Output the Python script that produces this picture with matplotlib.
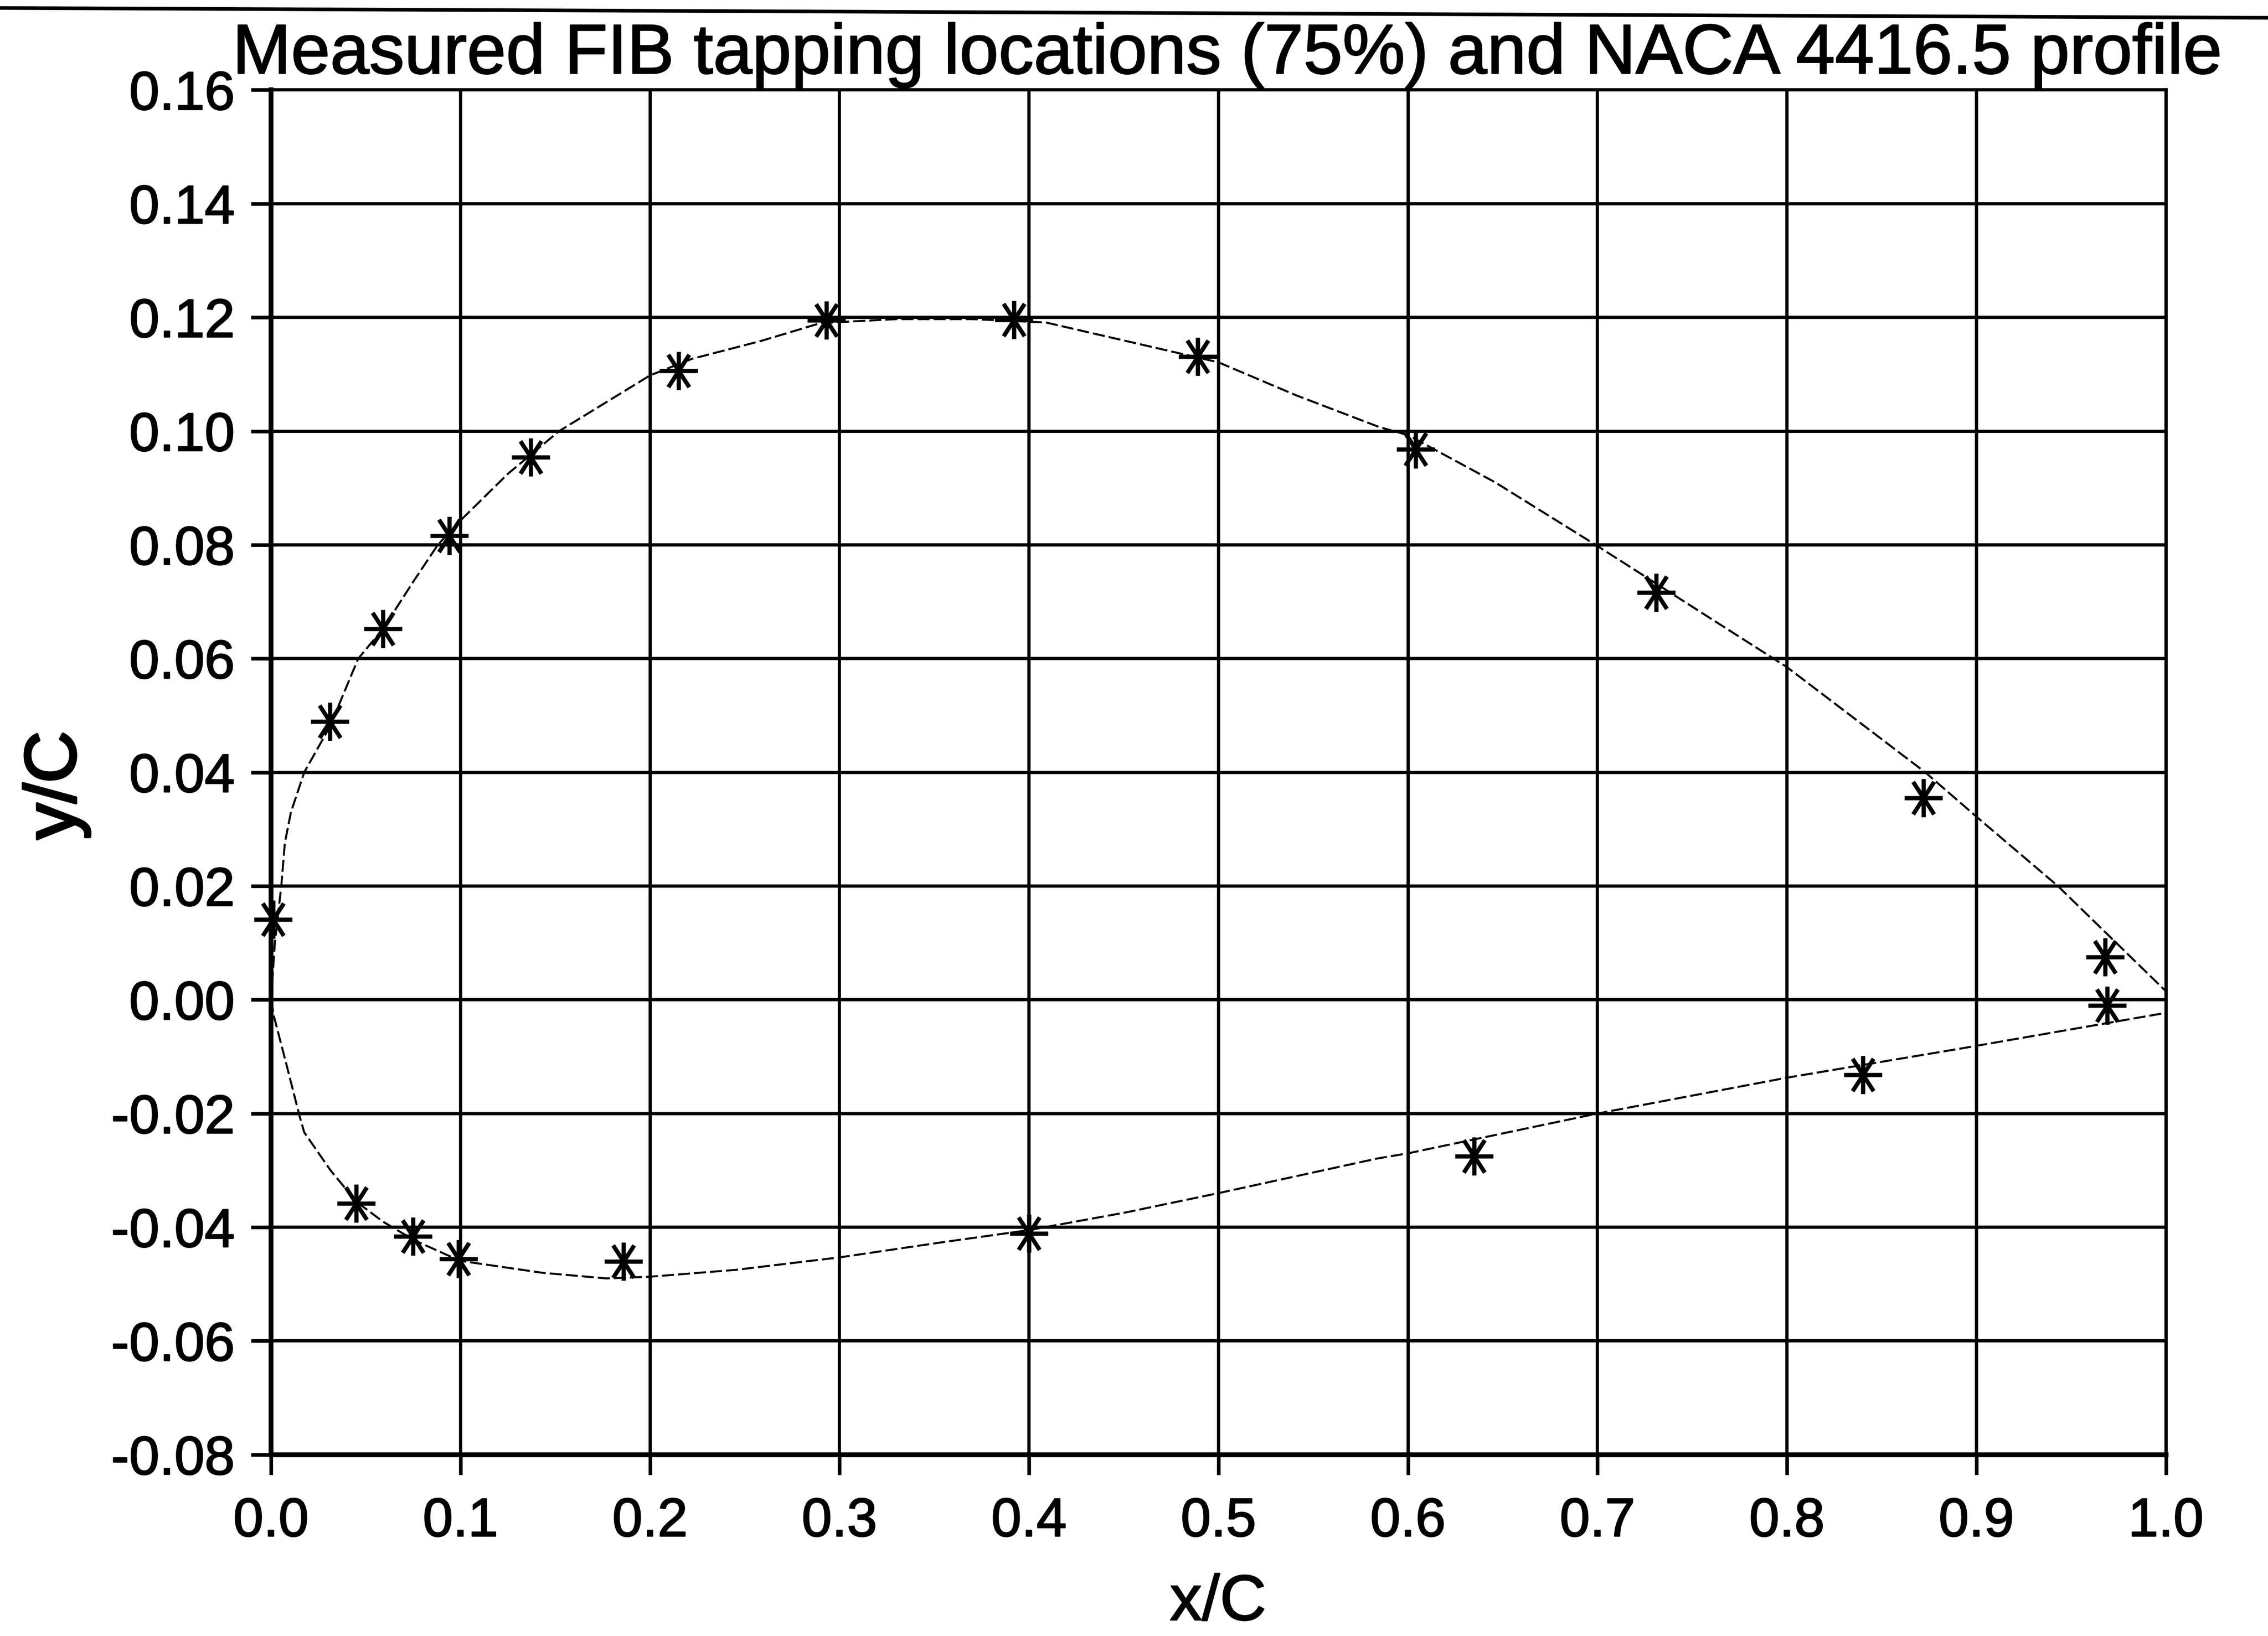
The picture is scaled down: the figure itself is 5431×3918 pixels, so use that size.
import matplotlib
matplotlib.use('Agg')
import matplotlib.pyplot as plt
import matplotlib.patheffects as pe
from matplotlib.path import Path
from matplotlib.lines import Line2D
from matplotlib.ticker import FormatStrFormatter

plt.rcParams['font.family'] = ['Liberation Sans', 'DejaVu Sans']
plt.rcParams['axes.unicode_minus'] = False

# measured FIB tapping locations (75% span)
tap_x = [0.001, 0.031, 0.059, 0.094, 0.137, 0.215, 0.293, 0.392, 0.489, 0.604,
         0.731, 0.872, 0.968, 0.969, 0.840, 0.635, 0.400, 0.186, 0.099, 0.075, 0.045]
tap_y = [0.0141, 0.0489, 0.0652, 0.0816, 0.0954, 0.1106, 0.1195, 0.1196, 0.1131, 0.0968,
         0.0716, 0.0355, 0.0075, -0.0010, -0.0132, -0.0275, -0.0411, -0.0460, -0.0456, -0.0416, -0.0358]

# NACA 4416.5 profile, upper surface
upper_x = [0.0, 0.002, 0.0054, 0.0073, 0.0105, 0.0175, 0.031, 0.046, 0.059, 0.075,
           0.088, 0.1, 0.125, 0.152, 0.2, 0.222, 0.259, 0.29, 0.33, 0.37,
           0.409, 0.461, 0.5, 0.541, 0.585, 0.6, 0.646, 0.7, 0.76, 0.8,
           0.873, 0.9, 0.943, 1.0]
upper_y = [0.0, 0.010, 0.020, 0.0276, 0.033, 0.040, 0.048, 0.060, 0.0652, 0.0735,
           0.080, 0.0843, 0.0925, 0.100, 0.1098, 0.1127, 0.1159, 0.119, 0.1197, 0.1197,
           0.1191, 0.1151, 0.1121, 0.1063, 0.1007, 0.0993, 0.091, 0.0798, 0.067, 0.0585,
           0.040, 0.0322, 0.020, 0.0015]

# lower surface
lower_x = [0.0, 0.0016, 0.0086, 0.015, 0.0175, 0.0314, 0.045, 0.059, 0.0757, 0.0997,
           0.143, 0.177, 0.2, 0.245, 0.3, 0.353, 0.4, 0.451, 0.5, 0.584,
           0.6, 0.7, 0.8, 0.893, 1.0]
lower_y = [0.0, -0.003, -0.012, -0.0204, -0.0233, -0.030, -0.0355, -0.039, -0.0423, -0.0459,
           -0.048, -0.049, -0.0487, -0.0475, -0.0453, -0.0427, -0.0405, -0.0374, -0.034, -0.0279,
           -0.027, -0.020, -0.0137, -0.0085, -0.0023]

x_ticks = [0.0, 0.1, 0.2, 0.3, 0.4, 0.5, 0.6, 0.7, 0.8, 0.9, 1.0]
y_ticks = [-0.08, -0.06, -0.04, -0.02, 0.0, 0.02, 0.04, 0.06, 0.08, 0.10, 0.12, 0.14, 0.16]

# excel style star: asterisk with a horizontal bar
star = Path([(-1, 0), (1, 0), (0, -1), (0, 1),
             (-0.55, -0.85), (0.55, 0.85), (-0.55, 0.85), (0.55, -0.85)],
            [Path.MOVETO, Path.LINETO] * 4)

# scanned print looks a bit heavier than plain text
heavy = [pe.withStroke(linewidth=0.6, foreground='black')]

dpi = 346.4
fig = plt.figure(figsize=(5431.5 / dpi, 3918.5 / dpi), dpi=dpi)
ax = fig.add_axes([0.1195, 0.1108, 0.8354, 0.8341])

ax.plot(upper_x, upper_y, color='black', lw=1.0, dashes=(6, 2.0), zorder=3)
ax.plot(lower_x, lower_y, color='black', lw=1.0, dashes=(6, 2.0), zorder=3)
ax.plot(tap_x, tap_y, ls='none', marker=star, markersize=19, mew=2.1,
        mec='black', mfc='none', zorder=4, clip_on=False)

ax.set_xlim(0.0, 1.0)
ax.set_ylim(-0.08, 0.16)
ax.set_xticks(x_ticks)
ax.set_yticks(y_ticks)
ax.xaxis.set_major_formatter(FormatStrFormatter('%.1f'))
ax.yaxis.set_major_formatter(FormatStrFormatter('%.2f'))
ax.tick_params(axis='both', direction='out', length=10, width=1.8, labelsize=27, colors='black')
ax.tick_params(axis='x', pad=11)
ax.tick_params(axis='y', pad=8)
for lab in ax.get_xticklabels() + ax.get_yticklabels():
    lab.set_path_effects(heavy)

ax.grid(True, color='black', lw=1.6)
ax.set_axisbelow(True)
for side in ['left', 'bottom']:
    ax.spines[side].set_linewidth(2.4)
for side in ['top', 'right']:
    ax.spines[side].set_linewidth(1.6)

fig.text(0.541, 0.955, 'Measured FIB tapping locations (75%) and NACA 4416.5 profile',
         ha='center', va='baseline', fontsize=35, path_effects=heavy)
fig.text(0.537, 0.020, 'x/C', ha='center', va='center', fontsize=32, path_effects=heavy)
fig.text(0.025, 0.52, 'y/C', ha='center', va='center', rotation=90, fontsize=36,
         path_effects=[pe.withStroke(linewidth=1.2, foreground='black')])

# scanned page edge along the top
fig.add_artist(Line2D([0.0, 1.0], [0.995, 0.989], color='black', lw=1.8,
                      transform=fig.transFigure))

fig.savefig('out.png', dpi=dpi, facecolor='white')
